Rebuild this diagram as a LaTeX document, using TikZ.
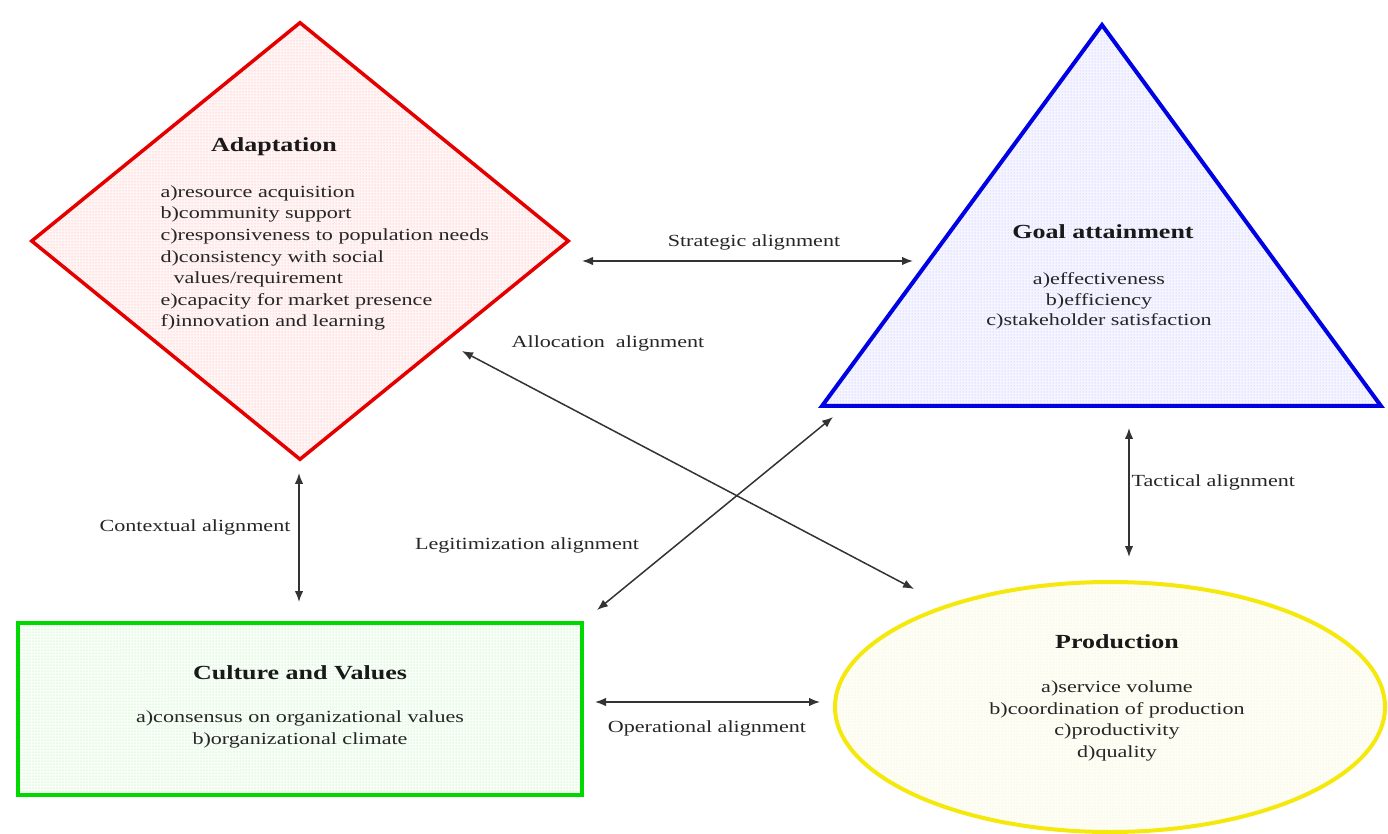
\documentclass[tikz,border=0pt]{standalone}
\usepackage{fontspec}
\setmainfont{Liberation Serif}[FakeStretch=1.3]
\usepackage{tikz}
\usetikzlibrary{arrows.meta,patterns,shapes.geometric}
\tikzset{
	link/.style={{Latex[length=11pt,width=8.5pt]}-{Latex[length=11pt,width=8.5pt]}, line width=1.5, color=black!80},
	heading/.style={font=\fontsize{20}{24}\selectfont\bfseries, text=black!90},
	item/.style={font=\fontsize{17}{21.6}\selectfont, text=black!85},
	tag/.style={font=\fontsize{17}{20}\selectfont, text=black!85}
}

\begin{document}
\begin{tikzpicture}[x=1pt, y=1pt]
			%%%%% START %%%%%
			\useasboundingbox (0, 0) rectangle (1388, 833);
			
			% the four shapes
			\node[diamond, draw=red!90!black, line width=3.5, minimum width=538, minimum height=438, inner sep=0,
				pattern=dots, pattern color=red!35, preaction={fill=red!4}] (adapt) at (300, 592) {};
			\draw[line width=4, color=blue!90!black, pattern=dots, pattern color=blue!30, preaction={fill=blue!4}]
				(1102, 808) -- (822, 427) -- (1381, 427) -- cycle;
			\node[rectangle, draw=green!85!black, line width=4, minimum width=564, minimum height=172,
				pattern=dots, pattern color=green!40!gray!40, preaction={fill=green!3}] (culture) at (300, 124) {};
			\node[ellipse, draw=yellow!95!black, line width=4, minimum width=550, minimum height=250,
				pattern=dots, pattern color=yellow!40!gray!25, preaction={fill=yellow!4}] (prod) at (1110, 126) {};
			
			% texts inside
			\node[heading] (adapttitle) at (274, 686) {Adaptation};
			\node[item, align=left, anchor=west] (adaptlist) at (157, 575) {a)resource acquisition\\b)community support\\c)responsiveness to population needs\\d)consistency with social\\\hspace*{13pt}values/requirement\\e)capacity for market presence\\f)innovation and learning};
			
			\node[heading] (goaltitle) at (1103, 601) {Goal attainment};
			\node[item, align=center, font=\fontsize{17}{20.5}\selectfont] (goallist) at (1099, 532) {a)effectiveness\\b)efficiency\\c)stakeholder satisfaction};
			
			\node[heading] (culttitle) at (300, 160) {Culture and Values};
			\node[item, align=center, font=\fontsize{17}{22}\selectfont] (cultlist) at (300, 104) {a)consensus on organizational values\\b)organizational climate};
			
			\node[heading] (prodtitle) at (1117, 191) {Production};
			\node[item, align=center] (prodlist) at (1117, 112) {a)service volume\\b)coordination of production\\c)productivity\\d)quality};
			
			% arrow ends
			\coordinate (strL) at (582, 572);
			\coordinate (strR) at (913, 572);
			\coordinate (allA) at (462, 482);
			\coordinate (allP) at (914, 244);
			\coordinate (legC) at (597, 223);
			\coordinate (legG) at (833, 416);
			\coordinate (conA) at (299, 360);
			\coordinate (conC) at (299, 231);
			\coordinate (tacG) at (1129, 405);
			\coordinate (tacP) at (1129, 276);
			\coordinate (opeC) at (595, 131);
			\coordinate (opeP) at (820, 131);
			
			\draw[link] (strL) -- (strR);
			\draw[link] (allA) -- (allP);
			\draw[link] (legC) -- (legG);
			\draw[link] (conA) -- (conC);
			\draw[link] (tacG) -- (tacP);
			\draw[link] (opeC) -- (opeP);
			
			% alignment labels
			\node[tag] (strtag) at (754, 591) {Strategic alignment};
			\node[tag] (alltag) at (608, 490) {Allocation\ \ alignment};
			\node[tag] (legtag) at (527, 288) {Legitimization alignment};
			\node[tag, anchor=east] (context) at (294, 306) {Contextual alignment};
			\node[tag, anchor=west] (tactic) at (1128, 351) {Tactical alignment};
			\node[tag] (opetag) at (707, 105) {Operational alignment};
			
			%%%%% END %%%%%
		\end{tikzpicture}
\end{document}
